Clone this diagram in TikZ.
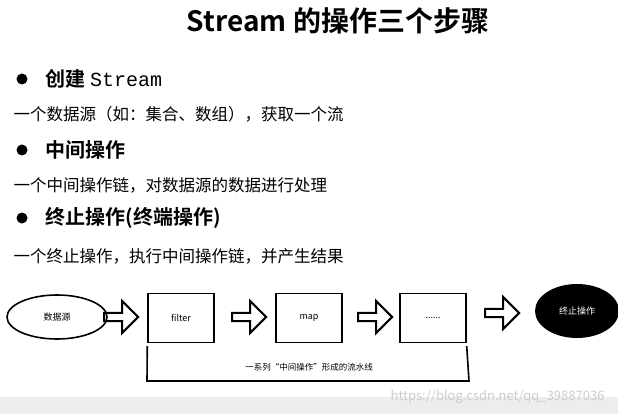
\documentclass[tikz,border=0pt]{standalone}
\usepackage{fontspec}
\setmainfont{Noto Sans CJK SC}[BoldFont=Noto Sans CJK SC Bold]
\newfontfamily\monof{Liberation Mono}
\usetikzlibrary{shapes.arrows,shapes.geometric}
\begin{document}
\begin{tikzpicture}[x=1pt,y=-1pt,
  hollow/.style={single arrow,draw,line width=2pt,minimum width=32pt,single arrow head extend=7pt,minimum height=34pt,inner sep=1.5pt},
  opbox/.style={draw,line width=1.4pt,minimum width=66pt,minimum height=49pt,font=\fontsize{9}{10}\selectfont},
  head/.style={anchor=west,font=\fontsize{20}{24}\selectfont\bfseries},
  sub/.style={anchor=west,font=\fontsize{16.5}{19}\selectfont},
  dot/.style={circle,fill=black,inner sep=0pt,minimum size=11pt}]
\useasboundingbox (0,0) rectangle (618,414);
\fill[gray!14] (0,397) rectangle (618,414);
\node (title) at (338,21) {\fontsize{28}{32}\selectfont\bfseries Stream 的操作三个步骤};
\node[dot] (b1) at (22,79) {};
\node[head] (h1) at (42,79) {创建 {\monof\mdseries Stream}};
\node[sub] (s1) at (10,114) {一个数据源（如：集合、数组），获取一个流};
\node[dot] (b2) at (22,150) {};
\node[head] (h2) at (42,150) {中间操作};
\node[sub] (s2) at (10,185) {一个中间操作链，对数据源的数据进行处理};
\node[dot] (b3) at (22,218) {};
\node[head] (h3) at (42,218) {终止操作(终端操作)};
\node[sub] (s3) at (10,256) {一个终止操作，执行中间操作链，并产生结果};
\node[draw,line width=1.6pt,ellipse,minimum width=100pt,minimum height=44pt,font=\fontsize{9}{10}\selectfont] (src) at (57,317) {数据源};
\node[hollow] (a1) at (119,317) {};
\node[opbox] (f) at (181,318) {filter};
\node[hollow] (a2) at (247,317) {};
\node[opbox] (m) at (309,318) {map};
\node[hollow] (a3) at (373,317) {};
\node[opbox] (d) at (433,318) {......};
\node[hollow] (a4) at (500,313) {};
\node[ellipse,fill=black,text=white,minimum width=84pt,minimum height=54pt,font=\fontsize{9}{10}\selectfont] (end) at (577,311) {终止操作};
\coordinate (c1) at (147,381);
\coordinate (c2) at (469,381);
\draw[line width=1.6pt] (f.south west |- 0,346) -- (c1) -- (c2) -- (d.south east |- 0,346);
\node[font=\fontsize{8.5}{10}\selectfont] (lbl) at (309,367) {一系列“中间操作”形成的流水线};
\node[anchor=east,text=gray!40,font=\fontsize{13}{15}\selectfont] (wm) at (608,397) {https://blog.csdn.net/qq\_39887036};
\end{tikzpicture}
\end{document}
